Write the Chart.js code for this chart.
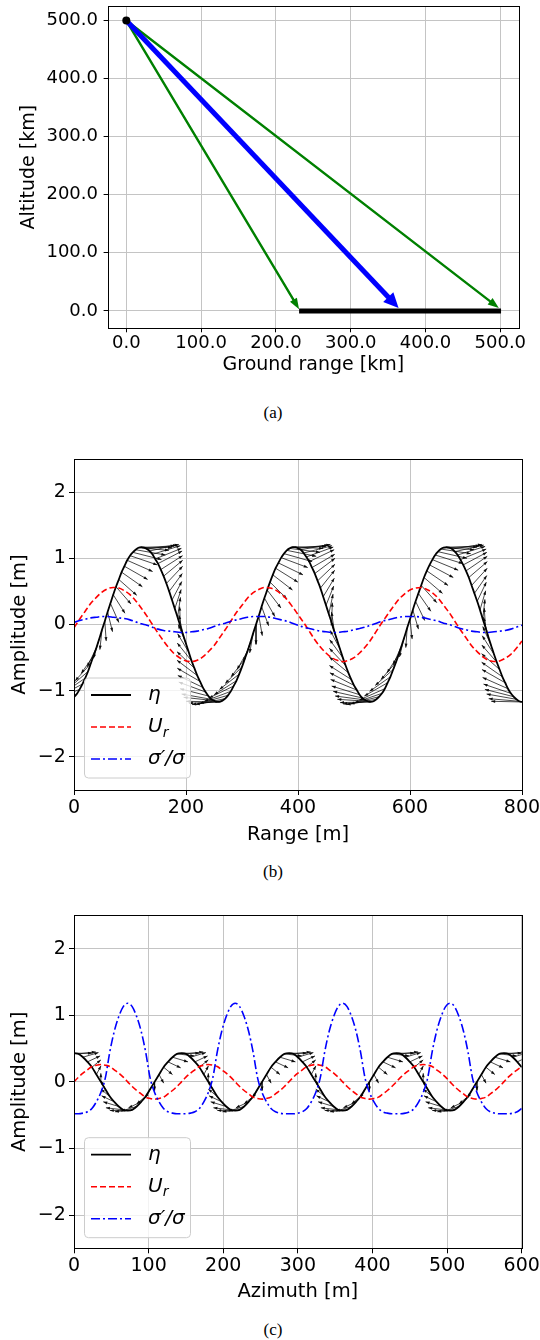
<!DOCTYPE html>
<html>
<head>
<meta charset="utf-8">
<script src="https://cdn.jsdelivr.net/npm/chart.js@4.4.1/dist/chart.umd.min.js"></script>
<style>
  html, body { margin: 0; padding: 0; background: #fff; }
  body { position: relative; width: 540px; height: 1340px; overflow: hidden; }
  canvas { position: absolute; left: 0; }
  .cap { position: absolute; left: 0; width: 546px; text-align: center; font: 17px "Liberation Serif", serif; line-height: 20px; color: #000; }
</style>
</head>
<body>
<canvas id="chartA" width="540" height="390" style="top:0"></canvas>
<div class="cap" style="top:403px">(a)</div>
<canvas id="chartB" width="540" height="420" style="top:440px"></canvas>
<div class="cap" style="top:862px">(b)</div>
<canvas id="chartC" width="540" height="410" style="top:900px"></canvas>
<div class="cap" style="top:1320px">(c)</div>
<script>
// ---------- (a) viewing geometry ----------
const geoTicks = [0, 100, 200, 300, 400, 500];
const geoTickLabels = ['0.0', '100.0', '200.0', '300.0', '400.0', '500.0'];
const satPos = [0, 500];            // ground range, altitude of the platform
const edgeTipX = [231, 498];        // green arrows (near / far edge)
const edgeTipY = [3, 5];
const centreTipX = [364];           // blue arrow (centre beam)
const centreTipY = [5];
const swathX = [231, 501];          // illuminated swath on the ground
const swathY = [0, 0];

// ---------- (b) range cut ----------
const rangeTicks = [0, 200, 400, 600, 800];
const rangeTickLabels = ['0', '200', '400', '600', '800'];
// surface samples (5 m) : elevation and quiver components
const surfX = [
  0, 5, 10, 15, 20, 25, 30, 35, 40, 45,
  50, 55, 60, 65, 70, 75, 80, 85, 90, 95,
  100, 105, 110, 115, 120, 125, 130, 135, 140, 145,
  150, 155, 160, 165, 170, 175, 180, 185, 190, 195,
  200, 205, 210, 215, 220, 225, 230, 235, 240, 245,
  250, 255, 260, 265, 270, 275, 280, 285, 290, 295,
  300, 305, 310, 315, 320, 325, 330, 335, 340, 345,
  350, 355, 360, 365, 370, 375, 380, 385, 390, 395,
  400, 405, 410, 415, 420, 425, 430, 435, 440, 445,
  450, 455, 460, 465, 470, 475, 480, 485, 490, 495,
  500, 505, 510, 515, 520, 525, 530, 535, 540, 545,
  550, 555, 560, 565, 570, 575, 580, 585, 590, 595,
  600, 605, 610, 615, 620, 625, 630, 635, 640, 645,
  650, 655, 660, 665, 670, 675, 680, 685, 690, 695,
  700, 705, 710, 715, 720, 725, 730, 735, 740, 745,
  750, 755, 760, 765, 770, 775, 780, 785, 790, 795,
  800];
const surfEta = [
  -1.10, -1.05, -0.98, -0.90, -0.81, -0.71, -0.59, -0.47, -0.35, -0.22,
  -0.08, 0.05, 0.19, 0.32, 0.45, 0.57, 0.68, 0.79, 0.88, 0.97,
  1.04, 1.09, 1.13, 1.16, 1.17, 1.16, 1.14, 1.11, 1.06, 0.99,
  0.92, 0.83, 0.73, 0.62, 0.50, 0.37, 0.24, 0.11, -0.03, -0.16,
  -0.29, -0.42, -0.55, -0.66, -0.77, -0.86, -0.95, -1.02, -1.08, -1.13,
  -1.15, -1.17, -1.17, -1.15, -1.12, -1.07, -1.01, -0.93, -0.85, -0.75,
  -0.64, -0.52, -0.40, -0.27, -0.13, 0.00, 0.13, 0.27, 0.40, 0.52,
  0.64, 0.75, 0.85, 0.93, 1.01, 1.07, 1.12, 1.15, 1.17, 1.17,
  1.15, 1.13, 1.08, 1.02, 0.95, 0.86, 0.77, 0.66, 0.55, 0.42,
  0.29, 0.16, 0.03, -0.11, -0.24, -0.37, -0.50, -0.62, -0.73, -0.83,
  -0.92, -0.99, -1.06, -1.11, -1.14, -1.16, -1.17, -1.16, -1.13, -1.09,
  -1.04, -0.97, -0.88, -0.79, -0.68, -0.57, -0.45, -0.32, -0.19, -0.05,
  0.08, 0.22, 0.35, 0.47, 0.59, 0.71, 0.81, 0.90, 0.98, 1.05,
  1.10, 1.14, 1.16, 1.17, 1.16, 1.14, 1.10, 1.05, 0.98, 0.90,
  0.81, 0.71, 0.59, 0.47, 0.35, 0.22, 0.08, -0.05, -0.19, -0.32,
  -0.45, -0.57, -0.68, -0.79, -0.88, -0.97, -1.04, -1.09, -1.13, -1.16,
  -1.17];
const surfDx = [
  -51.7, -49.2, -46.1, -42.3, -38.0, -33.1, -27.9, -22.2, -16.3, -10.1,
  -3.8, 2.5, 8.8, 15.1, 21.0, 26.8, 32.1, 37.1, 41.5, 45.4,
  48.7, 51.3, 53.2, 54.5, 55.0, 54.8, 53.8, 52.2, 49.8, 46.8,
  43.1, 38.9, 34.1, 29.0, 23.4, 17.5, 11.4, 5.1, -1.3, -7.6,
  -13.8, -19.9, -25.6, -31.1, -36.1, -40.6, -44.6, -48.0, -50.8, -52.9,
  -54.3, -54.9, -54.9, -54.1, -52.5, -50.3, -47.4, -43.9, -39.8, -35.2,
  -30.0, -24.5, -18.7, -12.6, -6.3, 0.0, 6.3, 12.6, 18.7, 24.5,
  30.0, 35.2, 39.8, 43.9, 47.4, 50.3, 52.5, 54.1, 54.9, 54.9,
  54.3, 52.9, 50.8, 48.0, 44.6, 40.6, 36.1, 31.1, 25.6, 19.9,
  13.8, 7.6, 1.3, -5.1, -11.4, -17.5, -23.4, -29.0, -34.1, -38.9,
  -43.1, -46.8, -49.8, -52.2, -53.8, -54.8, -55.0, -54.5, -53.2, -51.3,
  -48.7, -45.4, -41.5, -37.1, -32.1, -26.8, -21.0, -15.1, -8.8, -2.5,
  3.8, 10.1, 16.3, 22.2, 27.9, 33.1, 38.0, 42.3, 46.1, 49.2,
  51.7, 53.5, 54.6, 55.0, 54.6, 53.5, 51.7, 49.2, 46.1, 42.3,
  38.0, 33.1, 27.9, 22.2, 16.3, 10.1, 3.8, -2.5, -8.8, -15.1,
  -21.0, -26.8, -32.1, -37.1, -41.5, -45.4, -48.7, -51.3, -53.2, -54.5,
  -55.0];
const surfDy = [
  -0.10, -0.13, -0.16, -0.19, -0.22, -0.24, -0.26, -0.27, -0.29, -0.29,
  -0.30, -0.30, -0.30, -0.29, -0.28, -0.26, -0.24, -0.22, -0.20, -0.17,
  -0.14, -0.11, -0.08, -0.04, -0.01, 0.03, 0.06, 0.10, 0.13, 0.16,
  0.19, 0.21, 0.24, 0.26, 0.27, 0.28, 0.29, 0.30, 0.30, 0.30,
  0.29, 0.28, 0.27, 0.25, 0.23, 0.20, 0.18, 0.15, 0.11, 0.08,
  0.05, 0.01, -0.02, -0.06, -0.09, -0.12, -0.15, -0.18, -0.21, -0.23,
  -0.25, -0.27, -0.28, -0.29, -0.30, -0.30, -0.30, -0.29, -0.28, -0.27,
  -0.25, -0.23, -0.21, -0.18, -0.15, -0.12, -0.09, -0.06, -0.02, 0.01,
  0.05, 0.08, 0.11, 0.15, 0.18, 0.20, 0.23, 0.25, 0.27, 0.28,
  0.29, 0.30, 0.30, 0.30, 0.29, 0.28, 0.27, 0.26, 0.24, 0.21,
  0.19, 0.16, 0.13, 0.10, 0.06, 0.03, -0.01, -0.04, -0.08, -0.11,
  -0.14, -0.17, -0.20, -0.22, -0.24, -0.26, -0.28, -0.29, -0.30, -0.30,
  -0.30, -0.29, -0.29, -0.27, -0.26, -0.24, -0.22, -0.19, -0.16, -0.13,
  -0.10, -0.07, -0.03, 0.00, 0.03, 0.07, 0.10, 0.13, 0.16, 0.19,
  0.22, 0.24, 0.26, 0.27, 0.29, 0.29, 0.30, 0.30, 0.30, 0.29,
  0.28, 0.26, 0.24, 0.22, 0.20, 0.17, 0.14, 0.11, 0.08, 0.04,
  0.01];
// velocity and modulation profiles (10 m)
const profX = [
  0, 10, 20, 30, 40, 50, 60, 70, 80, 90,
  100, 110, 120, 130, 140, 150, 160, 170, 180, 190,
  200, 210, 220, 230, 240, 250, 260, 270, 280, 290,
  300, 310, 320, 330, 340, 350, 360, 370, 380, 390,
  400, 410, 420, 430, 440, 450, 460, 470, 480, 490,
  500, 510, 520, 530, 540, 550, 560, 570, 580, 590,
  600, 610, 620, 630, 640, 650, 660, 670, 680, 690,
  700, 710, 720, 730, 740, 750, 760, 770, 780, 790,
  800];
const rangeUr = [
  -0.05, 0.08, 0.20, 0.32, 0.41, 0.49, 0.54, 0.56, 0.55, 0.51,
  0.45, 0.36, 0.25, 0.13, 0.00, -0.13, -0.25, -0.36, -0.45, -0.51,
  -0.55, -0.56, -0.54, -0.49, -0.41, -0.32, -0.20, -0.08, 0.05, 0.18,
  0.29, 0.40, 0.48, 0.53, 0.56, 0.55, 0.52, 0.46, 0.38, 0.27,
  0.15, 0.03, -0.10, -0.23, -0.34, -0.43, -0.50, -0.54, -0.56, -0.54,
  -0.50, -0.43, -0.34, -0.23, -0.10, 0.03, 0.15, 0.27, 0.38, 0.46,
  0.52, 0.55, 0.56, 0.53, 0.48, 0.40, 0.29, 0.18, 0.05, -0.08,
  -0.20, -0.32, -0.41, -0.49, -0.54, -0.56, -0.55, -0.51, -0.45, -0.36,
  -0.25];
const rangeSig = [
  0.03, 0.06, 0.08, 0.10, 0.11, 0.12, 0.12, 0.11, 0.10, 0.09,
  0.07, 0.04, 0.01, -0.01, -0.04, -0.07, -0.09, -0.10, -0.11, -0.12,
  -0.12, -0.11, -0.10, -0.08, -0.06, -0.03, 0.00, 0.02, 0.05, 0.07,
  0.09, 0.11, 0.12, 0.12, 0.12, 0.11, 0.09, 0.07, 0.05, 0.02,
  -0.01, -0.04, -0.06, -0.08, -0.10, -0.11, -0.12, -0.12, -0.11, -0.10,
  -0.08, -0.06, -0.04, -0.01, 0.02, 0.05, 0.07, 0.09, 0.11, 0.12,
  0.12, 0.12, 0.11, 0.09, 0.07, 0.05, 0.02, 0.00, -0.03, -0.06,
  -0.08, -0.10, -0.11, -0.12, -0.12, -0.11, -0.10, -0.09, -0.07, -0.04,
  -0.01];

// ---------- (c) azimuth cut ----------
const azTicks = [0, 100, 200, 300, 400, 500, 600];
const azTickLabels = ['0', '100', '200', '300', '400', '500', '600'];
const azX = [
  0, 6, 12, 18, 24, 30, 36, 42, 48, 54, 60, 66,
  72, 78, 84, 90, 96, 102, 108, 114, 120, 126, 132, 138,
  144, 150, 156, 162, 168, 174, 180, 186, 192, 198, 204, 210,
  216, 222, 228, 234, 240, 246, 252, 258, 264, 270, 276, 282,
  288, 294, 300, 306, 312, 318, 324, 330, 336, 342, 348, 354,
  360, 366, 372, 378, 384, 390, 396, 402, 408, 414, 420, 426,
  432, 438, 444, 450, 456, 462, 468, 474, 480, 486, 492, 498,
  504, 510, 516, 522, 528, 534, 540, 546, 552, 558, 564, 570,
  576, 582, 588, 594, 600];
const azEta = [
  0.43, 0.42, 0.37, 0.30, 0.22, 0.11, 0.00, -0.11, -0.22, -0.30, -0.37, -0.42,
  -0.43, -0.42, -0.37, -0.30, -0.22, -0.11, 0.00, 0.11, 0.22, 0.30, 0.37, 0.42,
  0.43, 0.42, 0.37, 0.30, 0.22, 0.11, 0.00, -0.11, -0.22, -0.30, -0.37, -0.42,
  -0.43, -0.42, -0.37, -0.30, -0.22, -0.11, 0.00, 0.11, 0.22, 0.30, 0.37, 0.42,
  0.43, 0.42, 0.37, 0.30, 0.22, 0.11, 0.00, -0.11, -0.22, -0.30, -0.37, -0.42,
  -0.43, -0.42, -0.37, -0.30, -0.22, -0.11, 0.00, 0.11, 0.22, 0.30, 0.37, 0.42,
  0.43, 0.42, 0.37, 0.30, 0.22, 0.11, 0.00, -0.11, -0.22, -0.30, -0.37, -0.42,
  -0.43, -0.42, -0.37, -0.30, -0.22, -0.11, 0.00, 0.11, 0.22, 0.30, 0.37, 0.42,
  0.43, 0.42, 0.37, 0.30, 0.22];
const azUr = [
  0.00, 0.07, 0.13, 0.18, 0.23, 0.25, 0.26, 0.25, 0.23, 0.18, 0.13, 0.07,
  0.00, -0.07, -0.13, -0.18, -0.23, -0.25, -0.26, -0.25, -0.23, -0.18, -0.13, -0.07,
  0.00, 0.07, 0.13, 0.18, 0.23, 0.25, 0.26, 0.25, 0.23, 0.18, 0.13, 0.07,
  0.00, -0.07, -0.13, -0.18, -0.23, -0.25, -0.26, -0.25, -0.23, -0.18, -0.13, -0.07,
  0.00, 0.07, 0.13, 0.18, 0.23, 0.25, 0.26, 0.25, 0.23, 0.18, 0.13, 0.07,
  0.00, -0.07, -0.13, -0.18, -0.23, -0.25, -0.26, -0.25, -0.23, -0.18, -0.13, -0.07,
  0.00, 0.07, 0.13, 0.18, 0.23, 0.25, 0.26, 0.25, 0.23, 0.18, 0.13, 0.07,
  0.00, -0.07, -0.13, -0.18, -0.23, -0.25, -0.26, -0.25, -0.23, -0.18, -0.13, -0.07,
  0.00, 0.07, 0.13, 0.18, 0.23];
const azSig = [
  -0.48, -0.48, -0.47, -0.45, -0.40, -0.30, -0.16, 0.06, 0.45, 0.76, 0.98, 1.13,
  1.18, 1.13, 0.98, 0.76, 0.45, 0.06, -0.16, -0.30, -0.40, -0.45, -0.47, -0.48,
  -0.48, -0.48, -0.47, -0.45, -0.40, -0.30, -0.16, 0.06, 0.45, 0.76, 0.98, 1.13,
  1.18, 1.13, 0.98, 0.76, 0.45, 0.06, -0.16, -0.30, -0.40, -0.45, -0.47, -0.48,
  -0.48, -0.48, -0.47, -0.45, -0.40, -0.30, -0.16, 0.06, 0.45, 0.76, 0.98, 1.13,
  1.18, 1.13, 0.98, 0.76, 0.45, 0.06, -0.16, -0.30, -0.40, -0.45, -0.47, -0.48,
  -0.48, -0.48, -0.47, -0.45, -0.40, -0.30, -0.16, 0.06, 0.45, 0.76, 0.98, 1.13,
  1.18, 1.13, 0.98, 0.76, 0.45, 0.06, -0.16, -0.30, -0.40, -0.45, -0.47, -0.48,
  -0.48, -0.48, -0.47, -0.45, -0.40];
const azDx = [
  24.0, 23.2, 20.8, 17.0, 12.0, 6.2, 0.0, -6.2, -12.0, -17.0, -20.8, -23.2,
  -24.0, -23.2, -20.8, -17.0, -12.0, -6.2, 0.0, 6.2, 12.0, 17.0, 20.8, 23.2,
  24.0, 23.2, 20.8, 17.0, 12.0, 6.2, 0.0, -6.2, -12.0, -17.0, -20.8, -23.2,
  -24.0, -23.2, -20.8, -17.0, -12.0, -6.2, 0.0, 6.2, 12.0, 17.0, 20.8, 23.2,
  24.0, 23.2, 20.8, 17.0, 12.0, 6.2, 0.0, -6.2, -12.0, -17.0, -20.8, -23.2,
  -24.0, -23.2, -20.8, -17.0, -12.0, -6.2, 0.0, 6.2, 12.0, 17.0, 20.8, 23.2,
  24.0, 23.2, 20.8, 17.0, 12.0, 6.2, 0.0, -6.2, -12.0, -17.0, -20.8, -23.2,
  -24.0, -23.2, -20.8, -17.0, -12.0, -6.2, 0.0, 6.2, 12.0, 17.0, 20.8, 23.2,
  24.0, 23.2, 20.8, 17.0, 12.0];
const azDy = [
  0.00, 0.03, 0.07, 0.09, 0.11, 0.13, 0.13, 0.13, 0.11, 0.09, 0.07, 0.03,
  0.00, -0.03, -0.07, -0.09, -0.11, -0.13, -0.13, -0.13, -0.11, -0.09, -0.07, -0.03,
  0.00, 0.03, 0.07, 0.09, 0.11, 0.13, 0.13, 0.13, 0.11, 0.09, 0.07, 0.03,
  0.00, -0.03, -0.07, -0.09, -0.11, -0.13, -0.13, -0.13, -0.11, -0.09, -0.07, -0.03,
  0.00, 0.03, 0.07, 0.09, 0.11, 0.13, 0.13, 0.13, 0.11, 0.09, 0.07, 0.03,
  0.00, -0.03, -0.07, -0.09, -0.11, -0.13, -0.13, -0.13, -0.11, -0.09, -0.07, -0.03,
  0.00, 0.03, 0.07, 0.09, 0.11, 0.13, 0.13, 0.13, 0.11, 0.09, 0.07, 0.03,
  0.00, -0.03, -0.07, -0.09, -0.11, -0.13, -0.13, -0.13, -0.11, -0.09, -0.07, -0.03,
  0.00, 0.03, 0.07, 0.09, 0.11];

const ampTicks = [-2, -1, 0, 1, 2];
const ampTickLabels = ['\u22122', '\u22121', '0', '1', '2'];

Chart.defaults.font.family = '"DejaVu Sans", sans-serif';
Chart.defaults.color = '#000';
Chart.defaults.elements.point.radius = 0;

// helpers to turn the arrays into chart points
const pts = (xs, ys) => xs.map((x, i) => ({ x, y: ys[i] }));
function arrows(x0, y0, tipX, tipY) {
  const out = [];
  tipX.forEach((x, i) => out.push({ x: x0, y: y0 }, { x, y: tipY[i] }, { x, y: null }));
  return out;
}
function quiver(xs, ys, us, vs) {
  const out = [];
  xs.forEach((x, i) => out.push({ x, y: ys[i] }, { x: x + us[i], y: ys[i] + vs[i] }, { x: x + us[i], y: null }));
  return out;
}

function axis(o) {
  return {
    type: 'linear',
    min: o.min,
    max: o.max,
    afterBuildTicks: s => { s.ticks = o.ticks.map(v => ({ value: v })); },
    afterFit: s => {
      if (o.horizontal) s.height = o.size; else s.width = o.size;
      s.paddingLeft = s.paddingRight = s.paddingTop = s.paddingBottom = 0;
    },
    grid: { color: '#c4c4c4', lineWidth: 1, tickColor: '#000', tickLength: o.tickLength, tickWidth: 1 },
    border: { display: false },
    ticks: {
      font: { size: o.tickSize },
      padding: o.tickPad,
      maxRotation: 0,
      autoSkip: false,
      callback: (v, i) => o.labels[i]
    },
    title: { display: true, text: o.title, font: { size: o.titleSize }, padding: o.titlePad }
  };
}

// arrow heads (and shaft trimming) for datasets that carry a "head" spec
const arrowHeads = {
  id: 'arrowHeads',
  beforeDatasetDraw(chart, args) {
    const ds = chart.data.datasets[args.index];
    if (!ds.head || !ds.head.trim) return;
    const p = args.meta.data;
    ds._tips = [];
    for (let i = 0; i + 1 < p.length; i += 3) {
      const a = p[i], b = p[i + 1];
      ds._tips.push([b.x, b.y]);
      const len = Math.hypot(b.x - a.x, b.y - a.y);
      const k = Math.max(len - ds.head.len * 0.8, 0) / len;
      b.x = a.x + (b.x - a.x) * k;
      b.y = a.y + (b.y - a.y) * k;
    }
  },
  afterDatasetDraw(chart, args) {
    const ds = chart.data.datasets[args.index];
    if (!ds.head) return;
    const p = args.meta.data;
    const { ctx, chartArea: ca } = chart;
    ctx.save();
    ctx.beginPath();
    ctx.rect(ca.left, ca.top, ca.right - ca.left, ca.bottom - ca.top);
    ctx.clip();
    ctx.fillStyle = ds.head.color || ds.borderColor;
    for (let i = 0, n = 0; i + 1 < p.length; i += 3, n++) {
      const a = p[i], b = p[i + 1];
      let tx = b.x, ty = b.y;
      if (ds._tips) { tx = ds._tips[n][0]; ty = ds._tips[n][1]; b.x = tx; b.y = ty; }
      if (a.skip || isNaN(tx) || isNaN(ty)) continue;
      const len = Math.hypot(tx - a.x, ty - a.y);
      if (len < 0.5) continue;
      const ux = (tx - a.x) / len, uy = (ty - a.y) / len;
      const L = Math.min(ds.head.len, len), W = ds.head.width * L / ds.head.len;
      const bx = tx - ux * L, by = ty - uy * L;
      ctx.beginPath();
      ctx.moveTo(tx, ty);
      ctx.lineTo(bx - uy * W / 2, by + ux * W / 2);
      ctx.lineTo(bx + uy * W / 2, by - ux * W / 2);
      ctx.closePath();
      ctx.fill();
    }
    ctx.restore();
  }
};

// black box round the axes
const frame = {
  id: 'frame',
  afterDatasetsDraw(chart) {
    const { ctx, chartArea: a } = chart;
    const l = Math.round(a.left) + 0.5, r = Math.round(a.right) + 0.5;
    const t = Math.round(a.top) + 0.5, b = Math.round(a.bottom) + 0.5;
    ctx.save();
    ctx.strokeStyle = '#000';
    ctx.lineWidth = 1;
    ctx.strokeRect(l, t, r - l, b - t);
    ctx.restore();
  }
};

// matplotlib-like legend in the lower left corner
const mplLegend = {
  id: 'mplLegend',
  afterDraw(chart, args, opts) {
    if (!opts || !opts.display) return;
    const { ctx, chartArea: a } = chart;
    const items = chart.data.datasets.filter(d => d.legendRank).sort((p, q) => p.legendRank - q.legendRank);
    const x0 = a.left + opts.left, w = opts.width, h = opts.height;
    const y0 = a.bottom - opts.bottom - h, r = 4;
    ctx.save();
    ctx.beginPath();
    ctx.moveTo(x0 + r, y0);
    ctx.arcTo(x0 + w, y0, x0 + w, y0 + h, r);
    ctx.arcTo(x0 + w, y0 + h, x0, y0 + h, r);
    ctx.arcTo(x0, y0 + h, x0, y0, r);
    ctx.arcTo(x0, y0, x0 + w, y0, r);
    ctx.closePath();
    ctx.fillStyle = 'rgba(255,255,255,0.8)';
    ctx.fill();
    ctx.strokeStyle = '#cccccc';
    ctx.lineWidth = 1;
    ctx.stroke();
    items.forEach((d, i) => {
      const y = y0 + opts.first + i * opts.step;
      ctx.strokeStyle = d.borderColor;
      ctx.lineWidth = d.borderWidth;
      ctx.setLineDash(d.borderDash || []);
      ctx.beginPath();
      ctx.moveTo(x0 + 6.5, y);
      ctx.lineTo(x0 + 46.5, y);
      ctx.stroke();
      ctx.setLineDash([]);
      let x = x0 + 63.5;
      ctx.fillStyle = '#000';
      ctx.textAlign = 'left';
      ctx.textBaseline = 'middle';
      d.legendRuns.forEach(run => {
        ctx.font = 'italic ' + (run.sub ? 14 : 20) + 'px "DejaVu Sans"';
        ctx.fillText(run.t, x, y + (run.sub ? 6 : 0));
        x += ctx.measureText(run.t).width;
      });
    });
    ctx.restore();
  }
};

const base = { responsive: false, animation: false, events: [] };

// ---------- chart (a) ----------
new Chart(document.getElementById('chartA'), {
  type: 'line',
  data: {
    datasets: [
      { data: pts([satPos[0]], [satPos[1]]), showLine: false, pointRadius: 4, pointBackgroundColor: '#000', pointBorderWidth: 0 },
      { data: arrows(satPos[0], satPos[1], centreTipX, centreTipY), borderColor: '#0000ff', borderWidth: 5,
        borderCapStyle: 'butt', head: { len: 15, width: 14, trim: true } },
      { data: arrows(satPos[0], satPos[1], edgeTipX, edgeTipY), borderColor: '#008000', borderWidth: 2.4,
        borderCapStyle: 'butt', head: { len: 11, width: 8, trim: true } },
      { data: pts(swathX, swathY), borderColor: '#000', borderWidth: 5, borderCapStyle: 'butt' }
    ]
  },
  options: Object.assign({}, base, {
    layout: { padding: { top: 6, right: 21, bottom: 0, left: 0 } },
    plugins: { legend: { display: false }, tooltip: { enabled: false } },
    scales: {
      x: axis({ min: -25, max: 525, ticks: geoTicks, labels: geoTickLabels, horizontal: true, size: 61.7,
        tickSize: 18, tickLength: 4, tickPad: 0.2, title: 'Ground range [km]', titleSize: 19,
        titlePad: { top: 0, bottom: 13.6 } }),
      y: axis({ min: -30, max: 525, ticks: geoTicks, labels: geoTickLabels, size: 107.6,
        tickSize: 18, tickLength: 4, tickPad: 5.6, title: 'Altitude [km]', titleSize: 19,
        titlePad: { top: 17.5, bottom: 0 } })
    }
  }),
  plugins: [arrowHeads, frame]
});

// ---------- charts (b) and (c) ----------
function waveChart(id, sx, eta, dx, dy, px, ur, sig, o) {
  return new Chart(document.getElementById(id), {
    type: 'line',
    data: {
      datasets: [
        { data: pts(px, sig), borderColor: '#0000ff', borderWidth: 1.6, borderDash: [9, 3, 2, 3],
          cubicInterpolationMode: 'monotone', legendRank: 3, legendRuns: [{ t: '\u03c3\u2032/\u03c3' }] },
        { data: pts(px, ur), borderColor: '#ff0000', borderWidth: 1.6, borderDash: [6, 3],
          cubicInterpolationMode: 'monotone', legendRank: 2, legendRuns: [{ t: 'U' }, { t: 'r', sub: true }] },
        { data: pts(sx, eta), borderColor: '#000', borderWidth: 1.8,
          cubicInterpolationMode: 'monotone', legendRank: 1, legendRuns: [{ t: '\u03b7' }] },
        { data: quiver(sx, eta, dx, dy), borderColor: 'rgba(0,0,0,0.85)', borderWidth: 0.85,
          head: { len: 4, width: 3, color: 'rgba(0,0,0,0.9)' } }
      ]
    },
    options: Object.assign({}, base, {
      layout: { padding: o.padding },
      plugins: {
        legend: { display: false }, tooltip: { enabled: false },
        mplLegend: { display: true, left: 10.5, bottom: o.legendBottom, width: 106, height: 100, first: 17, step: 32 }
      },
      scales: {
        x: axis({ min: o.xmin, max: o.xmax, ticks: o.xticks, labels: o.xlabels, horizontal: true, size: o.xsize,
          tickSize: 19, tickLength: 5, tickPad: 1.6, title: o.xtitle, titleSize: 19.5,
          titlePad: { top: 0, bottom: o.xtitlePad } }),
        y: axis({ min: -2.5, max: 2.5, ticks: ampTicks, labels: ampTickLabels, size: 74,
          tickSize: 19, tickLength: 5, tickPad: 3.2, title: 'Amplitude [m]', titleSize: 19.5,
          titlePad: { top: 7.8, bottom: 0 } })
      }
    }),
    plugins: [arrowHeads, frame, mplLegend]
  });
}

waveChart('chartB', surfX, surfEta, surfDx, surfDy, profX, rangeUr, rangeSig, {
  padding: { top: 19, right: 18, bottom: 0, left: 0 },
  xmin: 0, xmax: 800, xticks: rangeTicks, xlabels: rangeTickLabels, xsize: 70,
  xtitle: 'Range [m]', xtitlePad: 13.3, legendBottom: 12
});

waveChart('chartC', azX, azEta, azDx, azDy, azX, azUr, azSig, {
  padding: { top: 15.4, right: 18.3, bottom: 0, left: 0 },
  xmin: 0, xmax: 600, xticks: azTicks, xlabels: azTickLabels, xsize: 61.7,
  xtitle: 'Azimuth [m]', xtitlePad: 6.6, legendBottom: 10.6
});
</script>
</body>
</html>
